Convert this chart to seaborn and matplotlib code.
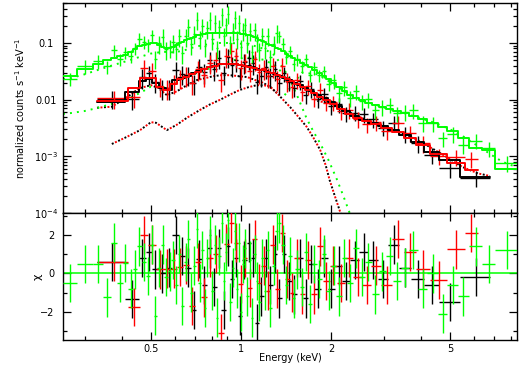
import numpy as np
import matplotlib
matplotlib.use("Agg")
import matplotlib.pyplot as plt
import seaborn as sns
from matplotlib.ticker import FixedLocator, FixedFormatter, NullFormatter

# ---------------- data ----------------
# black data set: bin edges (keV), model (counts/s/keV), data, fractional error, residual (chi)
black_edges = [0.330, 0.410, 0.455, 0.480, 0.505, 0.530, 0.560, 0.590, 0.620, 0.650, 0.680,
               0.710, 0.740, 0.770, 0.800, 0.830, 0.860, 0.890, 0.920, 0.950, 0.980, 1.010,
               1.045, 1.080, 1.115, 1.150, 1.190, 1.230, 1.275, 1.320, 1.370, 1.420, 1.480,
               1.540, 1.610, 1.680, 1.760, 1.850, 1.950, 2.060, 2.180, 2.320, 2.480, 2.660,
               2.870, 3.100, 3.380, 3.700, 4.100, 4.600, 5.400, 6.800]
black_model = [0.0092, 0.0135, 0.021, 0.023, 0.020, 0.016, 0.015, 0.022, 0.024, 0.026, 0.029,
               0.032, 0.035, 0.038, 0.040, 0.042, 0.043, 0.043, 0.043, 0.042, 0.041, 0.040,
               0.039, 0.037, 0.035, 0.034, 0.032, 0.030, 0.028, 0.026, 0.024, 0.022, 0.020,
               0.018, 0.016, 0.014, 0.012, 0.0105, 0.0090, 0.0076, 0.0062, 0.0051, 0.0044,
               0.0039, 0.0034, 0.0029, 0.0024, 0.0018, 0.0012, 0.00085, 0.00044]
black_data = [0.0104, 0.0103, 0.0248, 0.029, 0.0208, 0.016, 0.0159, 0.0332, 0.0288, 0.0276,
              0.0196, 0.0374, 0.0308, 0.0498, 0.0346, 0.055, 0.029, 0.0576, 0.0404, 0.0496,
              0.026, 0.0464, 0.0542, 0.0437, 0.0204, 0.0265, 0.0378, 0.0264, 0.0344, 0.0198,
              0.0295, 0.0202, 0.016, 0.0212, 0.0122, 0.0155, 0.0102, 0.0124, 0.0077, 0.0083,
              0.0057, 0.0059, 0.0055, 0.0045, 0.0032, 0.0039, 0.0025, 0.0017, 0.00106,
              0.00062, 0.00042]
black_ferr = [0.35, 0.35, 0.38, 0.38, 0.38, 0.38, 0.38, 0.38, 0.38, 0.38, 0.38, 0.38, 0.38,
              0.38, 0.38, 0.38, 0.38, 0.38, 0.38, 0.38, 0.38, 0.38, 0.38, 0.38, 0.38, 0.38,
              0.38, 0.38, 0.38, 0.38, 0.30, 0.30, 0.30, 0.30, 0.30, 0.30, 0.30, 0.30, 0.30,
              0.30, 0.30, 0.30, 0.30, 0.30, 0.30, 0.32, 0.32, 0.32, 0.32, 0.32, 0.32]
black_chi = [0.6, -1.35, 0.8, 1.1, 0.2, 0.0, 0.3, 2.0, 0.9, 0.3, -1.9, 0.75, -0.6, 1.3, -0.7,
             1.3, -1.9, 1.4, -0.3, 0.8, -2.2, 0.7, 1.6, 0.8, -2.6, -1.2, 0.8, -0.6, 1.0, -1.3,
             1.0, -0.4, -1.1, 0.8, -1.3, 0.5, -0.8, 0.8, -0.8, 0.4, -0.4, 0.7, 1.1, 0.7, -0.3,
             1.5, 0.3, -0.3, -0.6, -1.5, -0.2]

red_edges = [0.330, 0.420, 0.460, 0.490, 0.520, 0.550, 0.580, 0.610, 0.640, 0.670, 0.700,
             0.735, 0.770, 0.805, 0.840, 0.875, 0.910, 0.945, 0.980, 1.015, 1.050, 1.090,
             1.130, 1.170, 1.210, 1.255, 1.300, 1.350, 1.400, 1.455, 1.510, 1.570, 1.640,
             1.710, 1.790, 1.880, 1.980, 2.090, 2.220, 2.370, 2.540, 2.730, 2.950, 3.200,
             3.500, 3.850, 4.300, 4.900, 5.600, 6.200]
red_model = [0.0095, 0.016, 0.024, 0.024, 0.017, 0.015, 0.019, 0.023, 0.025, 0.028, 0.031,
             0.035, 0.038, 0.040, 0.042, 0.043, 0.043, 0.042, 0.041, 0.040, 0.038, 0.036,
             0.034, 0.033, 0.031, 0.029, 0.027, 0.025, 0.023, 0.021, 0.019, 0.017, 0.015,
             0.013, 0.0112, 0.0097, 0.0083, 0.0069, 0.0056, 0.0048, 0.0042, 0.0037, 0.0032,
             0.0027, 0.0021, 0.0016, 0.0011, 0.00075, 0.00058]
red_data = [0.0107, 0.0111, 0.0362, 0.0326, 0.0177, 0.0158, 0.020, 0.0246, 0.0273, 0.0197,
            0.035, 0.027, 0.0448, 0.0492, 0.0221, 0.0593, 0.0735, 0.0584, 0.0365, 0.0472,
            0.0325, 0.0522, 0.0306, 0.036, 0.0257, 0.0394, 0.023, 0.0388, 0.0216, 0.017,
            0.0224, 0.0136, 0.0174, 0.0104, 0.015, 0.0089, 0.009, 0.0062, 0.0066, 0.0046,
            0.0037, 0.0040, 0.0028, 0.0039, 0.0026, 0.0017, 0.00102, 0.00098, 0.0009]
red_ferr = [0.35, 0.35, 0.38, 0.38, 0.38, 0.38, 0.38, 0.38, 0.38, 0.38, 0.38, 0.38, 0.38,
            0.38, 0.38, 0.38, 0.38, 0.38, 0.38, 0.38, 0.38, 0.38, 0.38, 0.38, 0.38, 0.38,
            0.38, 0.38, 0.38, 0.38, 0.30, 0.30, 0.30, 0.30, 0.30, 0.30, 0.30, 0.30, 0.30,
            0.30, 0.30, 0.30, 0.30, 0.30, 0.32, 0.32, 0.32, 0.32, 0.32]
red_chi = [0.6, -1.75, 2.0, 1.5, 0.2, 0.25, 0.25, 0.33, 0.43, -1.7, 0.6, -1.25, 0.8, 1.0,
           -3.1, 1.55, 2.6, 1.6, -0.55, 0.8, -0.75, 1.8, -0.5, 0.4, -0.9, 1.5, -0.8, 2.1,
           -0.3, -1.0, 0.8, -1.1, 0.7, -1.1, 1.4, -0.4, 0.4, -0.5, 0.8, -0.2, -0.6, 0.4,
           -0.6, 1.8, 1.1, 0.2, -0.35, 1.25, 2.1]

green_edges = [0.254, 0.283, 0.320, 0.345, 0.368, 0.385, 0.402, 0.420, 0.435, 0.450, 0.465,
               0.480, 0.495, 0.510, 0.525, 0.540, 0.555, 0.570, 0.585, 0.600, 0.615, 0.630,
               0.645, 0.660, 0.675, 0.690, 0.705, 0.720, 0.735, 0.750, 0.765, 0.780, 0.795,
               0.810, 0.825, 0.840, 0.855, 0.870, 0.885, 0.900, 0.915, 0.930, 0.945, 0.960,
               0.975, 0.990, 1.005, 1.020, 1.040, 1.060, 1.080, 1.100, 1.120, 1.140, 1.165,
               1.190, 1.215, 1.240, 1.270, 1.300, 1.330, 1.360, 1.400, 1.440, 1.480, 1.520,
               1.570, 1.620, 1.670, 1.730, 1.790, 1.860, 1.930, 2.000, 2.080, 2.170, 2.260,
               2.370, 2.480, 2.600, 2.740, 2.890, 3.050, 3.230, 3.430, 3.650, 3.900, 4.200,
               4.550, 4.900, 5.300, 5.800, 6.400, 7.100, 8.400]
green_model = [0.026, 0.035, 0.043, 0.050, 0.054, 0.058, 0.062, 0.070, 0.078, 0.088, 0.093,
               0.097, 0.100, 0.098, 0.092, 0.085, 0.081, 0.082, 0.086, 0.092, 0.100, 0.106,
               0.112, 0.118, 0.124, 0.130, 0.136, 0.140, 0.143, 0.145, 0.147, 0.148, 0.149,
               0.150, 0.150, 0.150, 0.150, 0.150, 0.150, 0.150, 0.150, 0.150, 0.149, 0.148,
               0.147, 0.146, 0.145, 0.143, 0.140, 0.136, 0.131, 0.126, 0.120, 0.114, 0.108,
               0.102, 0.097, 0.092, 0.087, 0.082, 0.077, 0.071, 0.065, 0.060, 0.055, 0.050,
               0.045, 0.041, 0.037, 0.033, 0.029, 0.026, 0.023, 0.020, 0.0165, 0.014, 0.012,
               0.0108, 0.0098, 0.0089, 0.0081, 0.0074, 0.0068, 0.0063, 0.0058, 0.0051, 0.0046,
               0.0038, 0.0033, 0.0028, 0.0021, 0.0014, 0.0013, 0.0006]
green_data = [0.0234, 0.0389, 0.0477, 0.0385, 0.075, 0.052, 0.069, 0.060, 0.081, 0.118, 0.105,
              0.094, 0.136, 0.053, 0.100, 0.128, 0.077, 0.084, 0.104, 0.078, 0.132, 0.066,
              0.132, 0.194, 0.094, 0.146, 0.257, 0.122, 0.199, 0.088, 0.184, 0.258, 0.116,
              0.227, 0.080, 0.192, 0.308, 0.134, 0.204, 0.326, 0.099, 0.164, 0.274, 0.118,
              0.229, 0.084, 0.167, 0.204, 0.101, 0.165, 0.069, 0.166, 0.107, 0.075, 0.135,
              0.080, 0.135, 0.056, 0.097, 0.151, 0.132, 0.097, 0.057, 0.072, 0.042, 0.052,
              0.039, 0.052, 0.027, 0.037, 0.027, 0.032, 0.019, 0.022, 0.0129, 0.0165, 0.0108,
              0.0141, 0.0094, 0.0101, 0.0065, 0.0075, 0.0082, 0.0058, 0.0061, 0.0065, 0.0039,
              0.0038, 0.0021, 0.0025, 0.0016, 0.0019, 0.0014, 0.00077]
green_ferr = [0.27, 0.27, 0.27, 0.27, 0.25, 0.25, 0.25, 0.25, 0.25, 0.25, 0.25, 0.25, 0.25,
              0.35, 0.35, 0.35, 0.35, 0.35, 0.35, 0.35, 0.35, 0.35, 0.35, 0.35, 0.35, 0.35,
              0.35, 0.35, 0.35, 0.35, 0.35, 0.35, 0.35, 0.35, 0.35, 0.35, 0.35, 0.35, 0.35,
              0.35, 0.35, 0.35, 0.35, 0.35, 0.35, 0.35, 0.35, 0.35, 0.35, 0.35, 0.35, 0.35,
              0.35, 0.35, 0.35, 0.35, 0.35, 0.35, 0.35, 0.35, 0.25, 0.25, 0.25, 0.25, 0.25,
              0.25, 0.25, 0.25, 0.25, 0.25, 0.25, 0.25, 0.25, 0.30, 0.30, 0.30, 0.30, 0.30,
              0.30, 0.30, 0.30, 0.30, 0.30, 0.30, 0.30, 0.30, 0.30, 0.30, 0.30, 0.30, 0.30,
              0.30, 0.30, 0.30]
green_chi = [-0.5, 0.5, 0.5, -1.25, 1.6, -0.5, 0.55, -0.8, 0.2, 1.4, 0.6, -0.15, 1.5, -2.2,
             0.3, 1.5, -0.2, 0.1, 0.7, -0.6, 1.0, -1.7, 0.6, 1.8, -1.0, 0.4, 2.3, -0.5, 1.2,
             -1.8, 0.8, 2.0, -0.9, 1.5, -2.3, 0.9, 2.6, -0.4, 1.1, 2.8, -1.5, 0.3, 2.2, -0.8,
             1.6, -2.0, 0.5, 1.3, -1.2, 0.7, -2.3, 1.0, -0.4, -1.5, 0.8, -0.9, 1.2, -1.8, 0.4,
             2.2, 2.6, 1.5, -0.6, 0.9, -1.3, 0.2, -0.7, 1.1, -1.6, 0.5, -0.3, 1.0, -0.9, 0.4,
             -1.2, 0.8, -0.5, 1.3, -0.2, 0.6, -1.1, 0.1, 0.9, -0.4, 0.3, 1.2, -0.8, 0.0, -2.1,
             -0.6, -1.2, 1.4, 0.5, 1.2]

# model components (dotted)
br_soft_e = [0.33, 0.37, 0.415, 0.46, 0.50, 0.53, 0.565, 0.61, 0.66, 0.71, 0.76, 0.81, 0.86,
             0.92, 0.98, 1.05, 1.12, 1.18, 1.25, 1.32, 1.39, 1.46, 1.56, 1.66, 1.75, 1.84,
             1.92, 1.98, 2.06, 2.14, 2.20]
br_soft_v = [0.0072, 0.0075, 0.011, 0.016, 0.018, 0.016, 0.012, 0.014, 0.018, 0.022, 0.024,
             0.026, 0.027, 0.027, 0.026, 0.025, 0.022, 0.020, 0.017, 0.013, 0.0097, 0.0074,
             0.0049, 0.0033, 0.0021, 0.0013, 0.0007, 0.00038, 0.0002, 0.00011, 0.00007]
br_warm_e = [0.37, 0.415, 0.46, 0.50, 0.52, 0.565, 0.61, 0.66, 0.73, 0.79, 0.85, 0.92, 0.99,
             1.06, 1.13, 1.20, 1.25, 1.32]
br_warm_v = [0.00165, 0.0022, 0.0029, 0.0040, 0.0039, 0.0029, 0.0036, 0.0048, 0.0066, 0.0083,
             0.0099, 0.0123, 0.0148, 0.0166, 0.018, 0.0178, 0.017, 0.013]
br_hard_e = [1.8, 2.0, 2.3, 2.6, 3.0, 3.5, 4.0, 4.5, 5.0, 5.5, 6.2, 6.8]
br_hard_v = [0.0095, 0.0085, 0.0060, 0.0045, 0.0034, 0.0025, 0.0018, 0.00125, 0.0009,
             0.00065, 0.0005, 0.00045]
g_soft_e = [0.254, 0.27, 0.30, 0.33, 0.37, 0.41, 0.45, 0.50, 0.55, 0.60, 0.65, 0.70, 0.75,
            0.80, 0.85, 0.90, 0.95, 1.0, 1.1, 1.2, 1.3, 1.4, 1.46, 1.55, 1.66, 1.75, 1.84,
            1.96, 2.09, 2.2, 2.31]
g_soft_v = [0.023, 0.024, 0.028, 0.033, 0.040, 0.047, 0.055, 0.065, 0.070, 0.068, 0.075,
            0.085, 0.092, 0.097, 0.100, 0.100, 0.099, 0.097, 0.090, 0.078, 0.060, 0.033,
            0.022, 0.011, 0.0046, 0.0027, 0.0017, 0.00087, 0.0004, 0.0002, 0.0001]
g_warm_e = [0.254, 0.27, 0.30, 0.33, 0.36, 0.39, 0.43, 0.47, 0.50, 0.53, 0.57, 0.62, 0.67,
            0.73, 0.80, 0.87, 0.95, 1.03, 1.1, 1.2, 1.3, 1.4]
g_warm_v = [0.0056, 0.0058, 0.0063, 0.0071, 0.0081, 0.0090, 0.011, 0.014, 0.017, 0.017,
            0.016, 0.021, 0.026, 0.031, 0.037, 0.043, 0.050, 0.055, 0.055, 0.050, 0.040, 0.027]
g_hard_e = [1.4, 1.6, 1.8, 2.0, 2.3, 2.6, 3.0, 3.5, 4.0, 4.5, 5.0, 5.5, 6.0, 6.5, 7.0, 7.5,
            8.0, 8.4]
g_hard_v = [0.012, 0.030, 0.028, 0.020, 0.0125, 0.0093, 0.0073, 0.0058, 0.0047, 0.0038,
            0.0030, 0.0023, 0.0017, 0.0013, 0.0010, 0.0008, 0.0007, 0.00065]

BLACK, RED, GREEN = "#000000", "#ff0000", "#00ff00"

# ---------------- figure ----------------
sns.set_theme(style="ticks")
plt.rcParams["font.family"] = ["DejaVu Sans"]
plt.rcParams["axes.edgecolor"] = "black"
plt.rcParams["axes.linewidth"] = 1.0

W, H = 525, 367
fig = plt.figure(figsize=(W / 100, H / 100), dpi=100)
L, R = 63, 517
ax1 = fig.add_axes([L / W, 1 - 213 / H, (R - L) / W, (213 - 3) / H])
ax2 = fig.add_axes([L / W, 1 - 340 / H, (R - L) / W, (340 - 213) / H])

for ax in (ax1, ax2):
    ax.set_xscale("log")
    ax.set_xlim(0.254, 8.38)
ax1.set_yscale("log")
ax1.set_ylim(1e-4, 0.507)
ax2.set_ylim(-3.47, 3.14)


def dotted(ax, e, v, color, offset):
    sns.lineplot(x=np.array(e), y=np.array(v), ax=ax, color=color, linewidth=1.4,
                 linestyle=(offset, (1, 2.6)), estimator=None, errorbar=None, sort=True)


# model components
dotted(ax1, br_soft_e, br_soft_v, BLACK, 0)
dotted(ax1, br_soft_e, br_soft_v, RED, 1.8)
dotted(ax1, br_warm_e, br_warm_v, BLACK, 0)
dotted(ax1, br_warm_e, br_warm_v, RED, 1.8)
dotted(ax1, br_hard_e, br_hard_v, BLACK, 0)
dotted(ax1, br_hard_e, br_hard_v, RED, 1.8)
dotted(ax1, g_soft_e, g_soft_v, GREEN, 0)
dotted(ax1, g_warm_e, g_warm_v, GREEN, 0)
dotted(ax1, g_hard_e, g_hard_v, GREEN, 0)

ax2.axhline(0, color=GREEN, linewidth=1.1, zorder=1)


def dataset(edges, model, data, ferr, chi, color):
    e = np.array(edges)
    lo, hi = e[:-1], e[1:]
    xc = 0.5 * (lo + hi)
    y = np.array(data)
    err = y * np.array(ferr)
    xerr = [xc - lo, hi - xc]
    ax1.errorbar(xc, y, xerr=xerr, yerr=err, fmt="none", ecolor=color,
                 elinewidth=1.0, capsize=0, zorder=3)
    m = np.array(model)
    sns.lineplot(x=e, y=np.append(m, m[-1]), ax=ax1, color=color, linewidth=1.4,
                 drawstyle="steps-post", estimator=None, errorbar=None, zorder=4)
    ax2.errorbar(xc, np.array(chi), xerr=xerr, yerr=1.0, fmt="none", ecolor=color,
                 elinewidth=1.0, capsize=0, zorder=3)


dataset(black_edges, black_model, black_data, black_ferr, black_chi, BLACK)
dataset(red_edges, red_model, red_data, red_ferr, red_chi, RED)
dataset(green_edges, green_model, green_data, green_ferr, green_chi, GREEN)

# ---------------- ticks & labels ----------------
xmaj = [0.5, 1, 2, 5]
xmin = [0.3, 0.4, 0.6, 0.7, 0.8, 0.9, 3, 4, 6, 7, 8]
for ax in (ax1, ax2):
    ax.xaxis.set_major_locator(FixedLocator(xmaj))
    ax.xaxis.set_minor_locator(FixedLocator(xmin))
    ax.xaxis.set_minor_formatter(NullFormatter())
    ax.tick_params(which="both", direction="in", top=True, right=True,
                   color="black", width=0.9, labelsize=7, labelcolor="black")
    ax.tick_params(which="major", length=5.5)
    ax.tick_params(which="minor", length=2.8)
    for s in ax.spines.values():
        s.set_color("black")
        s.set_linewidth(1.0)
    ax.set_facecolor("white")

ax1.xaxis.set_major_formatter(NullFormatter())
ax2.xaxis.set_major_formatter(FixedFormatter(["0.5", "1", "2", "5"]))
ax2.tick_params(axis="x", pad=3)

ymaj = [1e-4, 1e-3, 1e-2, 1e-1]
ymin = [k * 10.0 ** d for d in (-4, -3, -2, -1) for k in range(2, 10) if k * 10.0 ** d < 0.51]
ax1.yaxis.set_major_locator(FixedLocator(ymaj))
ax1.yaxis.set_minor_locator(FixedLocator(ymin))
ax1.yaxis.set_minor_formatter(NullFormatter())
ax1.yaxis.set_major_formatter(FixedFormatter(["$10^{-4}$", "$10^{-3}$", "0.01", "0.1"]))
ax1.tick_params(axis="y", pad=12)
for lab in ax1.get_yticklabels():
    lab.set_horizontalalignment("center")

ax2.yaxis.set_major_locator(FixedLocator([-2, 0, 2]))
ax2.yaxis.set_minor_locator(FixedLocator([-3, -1, 1, 3]))
ax2.yaxis.set_major_formatter(FixedFormatter(["\u22122", "0", "2"]))
ax2.tick_params(axis="y", pad=6)

ax1.set_ylabel("normalized counts s$^{-1}$ keV$^{-1}$", fontsize=7, color="black")
ax1.yaxis.set_label_coords(-0.08, 0.5)
ax2.set_ylabel("\u03c7", fontsize=8, color="black")
ax2.yaxis.set_label_coords(-0.045, 0.5)
ax2.set_xlabel("Energy (keV)", fontsize=7, color="black")
ax2.xaxis.set_label_coords(0.5, -0.105)

fig.patch.set_facecolor("white")
fig.savefig("out.png", dpi=100, facecolor="white")
